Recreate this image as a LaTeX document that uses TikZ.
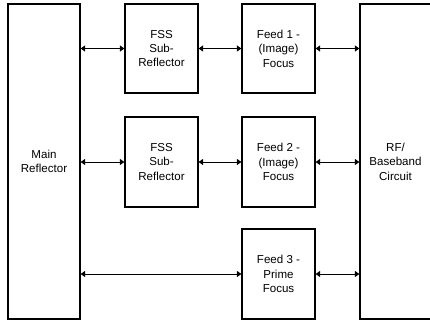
\documentclass[tikz,border=0pt]{standalone}
\usepackage{fontspec}
\setmainfont{Liberation Sans}
\usetikzlibrary{arrows.meta}
\begin{document}
\begin{tikzpicture}[x=1bp,y=-1bp,
  blk/.style={draw=black, line width=1.2bp, inner sep=0pt, align=center,
    font=\fontsize{11.6}{14.5}\selectfont},
  link/.style={line width=0.9bp, {Triangle[length=4.5bp,width=6bp]}-{Triangle[length=4.5bp,width=6bp]}}]
\useasboundingbox (0,0) rectangle (430,324);
\clip (0,0) rectangle (430,324);
\node[blk, minimum width=72bp, minimum height=315bp] (main) at (44,161.5) {Main\\Reflector};
\node[blk, minimum width=73bp, minimum height=89bp] (fss1) at (161.5,48.5) {FSS\\Sub-\\Reflector};
\node[blk, minimum width=73bp, minimum height=90bp] (fss2) at (161.5,162) {FSS\\Sub-\\Reflector};
\node[blk, minimum width=73bp, minimum height=89bp] (feed1) at (278.5,48.5) {Feed 1 -\\(Image)\\Focus};
\node[blk, minimum width=73bp, minimum height=90bp] (feed2) at (278.5,162) {Feed 2 -\\(Image)\\Focus};
\node[blk, minimum width=73bp, minimum height=90bp] (feed3) at (278.5,274) {Feed 3 -\\Prime\\Focus};
\node[blk, minimum width=71bp, minimum height=315bp] (rf) at (395.5,161.5) {RF/\\Baseband\\Circuit};
\draw[link] (main.east |- fss1) -- (fss1.west);
\draw[link] (fss1.east) -- (feed1.west);
\draw[link] (feed1.east) -- (rf.west |- feed1);
\draw[link] (main.east |- fss2) -- (fss2.west);
\draw[link] (fss2.east) -- (feed2.west);
\draw[link] (feed2.east) -- (rf.west |- feed2);
\draw[link] (main.east |- feed3) -- (feed3.west);
\draw[link] (feed3.east) -- (rf.west |- feed3);
\end{tikzpicture}
\end{document}
